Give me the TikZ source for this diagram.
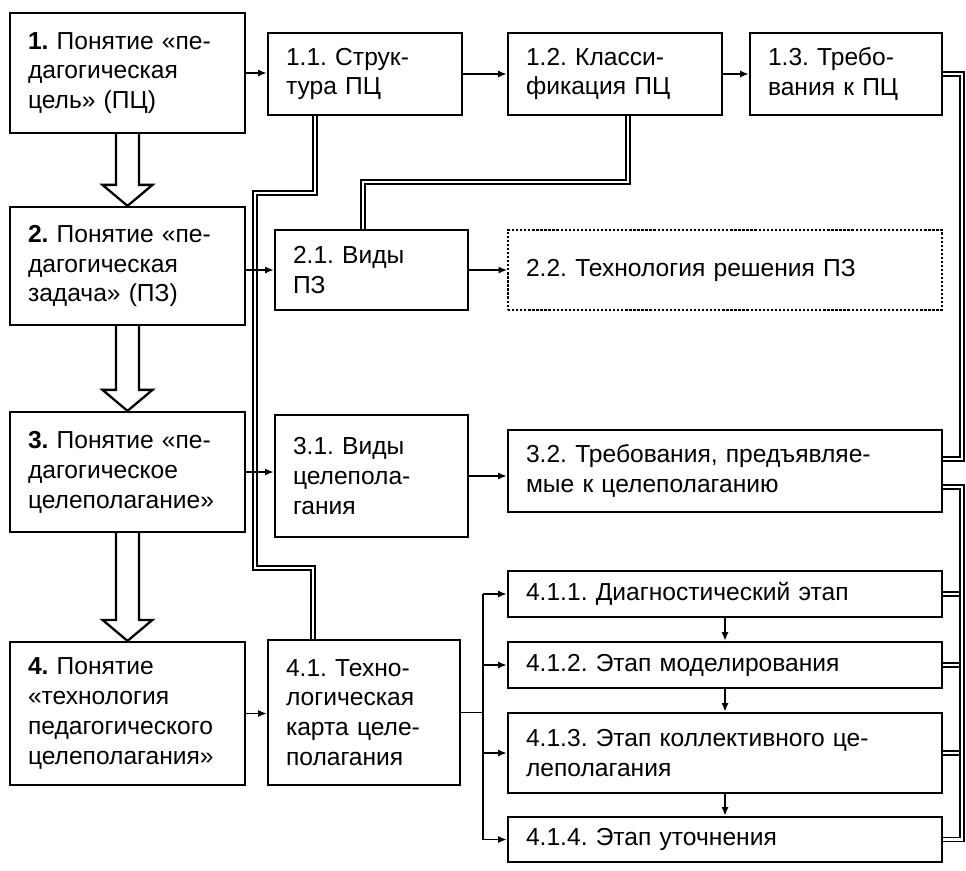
\documentclass[tikz,border=0pt]{standalone}
\usepackage{fontspec}
\setmainfont{Liberation Sans}
\usetikzlibrary{arrows.meta}
\frenchspacing

\begin{document}
\begin{tikzpicture}[x=0.02cm, y=-0.02cm,
		box/.style={draw, line width=1.3pt, align=left, inner xsep=0.36cm, inner ysep=0pt, font=\fontsize{14}{17}\selectfont},
		arr/.style={line width=1pt, -{Latex[length=5pt,width=4pt]}},
		dbl/.style={double, double distance=1.5pt, line width=0.9pt},
		hollow/.style={line width=1.3pt, line join=miter}]
	\useasboundingbox (0,0) rectangle (966,870);

	% main column
	\node[box, text width=3.98cm, minimum height=2.4cm] (p1) at (127.5,73) {\textbf{1.} Понятие «пе-\\дагогическая\\цель» (ПЦ)};
	\node[box, text width=3.98cm, minimum height=2.36cm] (p2) at (127.5,266) {\textbf{2.} Понятие «пе-\\дагогическая\\задача» (ПЗ)};
	\node[box, text width=3.98cm, minimum height=2.4cm] (p3) at (127.5,472) {\textbf{3.} Понятие «пе-\\дагогическое\\целеполагание»};
	\node[box, text width=3.98cm, minimum height=2.86cm] (p4) at (127.5,713.5) {\textbf{4.} Понятие\\«технология\\педагогического\\целеполагания»};

	% sub-items
	\node[box, text width=3.16cm, minimum height=1.64cm] (p11) at (365,74) {1.1. Струк-\\тура ПЦ};
	\node[box, text width=3.56cm, minimum height=1.64cm] (p12) at (615,74) {1.2. Класси-\\фикация ПЦ};
	\node[box, text width=3.12cm, minimum height=1.64cm] (p13) at (846,74) {1.3. Требо-\\вания к ПЦ};
	\node[box, text width=3.14cm, minimum height=1.6cm] (p21) at (371.5,270) {2.1. Виды\\ПЗ};
	\node[box, densely dotted, line width=0.8pt, text width=7.96cm, minimum height=1.6cm] (p22) at (725,270) {2.2. Технология решения ПЗ};
	\node[box, text width=3.14cm, minimum height=2.44cm] (p31) at (371.5,476) {3.1. Виды\\целепола-\\гания};
	\node[box, text width=7.96cm, minimum height=1.64cm] (p32) at (725,471) {3.2. Требования, предъявляе-\\мые к целеполаганию};
	\node[box, text width=3.12cm, minimum height=2.9cm] (p41) at (364,712.5) {4.1. Техно-\\логическая\\карта целе-\\полагания};
	\node[box, text width=7.96cm, minimum height=0.92cm] (p411) at (725,594) {4.1.1. Диагностический этап};
	\node[box, text width=7.96cm, minimum height=0.92cm] (p412) at (725,665) {4.1.2. Этап моделирования};
	\node[box, text width=7.96cm, minimum height=1.6cm] (p413) at (725,753) {4.1.3. Этап коллективного це-\\леполагания};
	\node[box, text width=7.96cm, minimum height=0.9cm] (p414) at (725,839.5) {4.1.4. Этап уточнения};

	\coordinate (a1) at (315,193);
	\coordinate (a2) at (255,568);
	\coordinate (a3) at (313,568);
	\coordinate (b1) at (628,182);
	\coordinate (b2) at (363,182);
	\coordinate (bus) at (962,0);
	\coordinate (fan) at (483,0);

	% double links
	\draw[dbl] (p11.south -| a1) -- (a1) -| (a2) -- (a3) -- (p41.north -| a3);
	\draw[dbl] (p12.south -| b1) -- (b1) -- (b2) -- (p21.north -| b2);
	\draw[dbl] (p13.east) -- (p13.east -| bus) -- ([yshift=0.24cm]p32.east -| bus) -- ([yshift=0.24cm]p32.east);
	\foreach \n in {p411,p412,p413}
		\draw[dbl] (\n.east) -- (\n.east -| bus);
	\draw[dbl] ([yshift=-0.32cm]p32.east) -- ([yshift=-0.32cm]p32.east -| bus) -- (p414.east -| bus) -- (p414.east);

	% hollow arrows
	\foreach \a/\b in {p1/p2,p2/p3,p3/p4}
		\draw[hollow] ([xshift=-0.23cm]\a.south) -- ([xshift=-0.23cm,yshift=0.42cm]\b.north) -- ([xshift=-0.5cm,yshift=0.42cm]\b.north) -- (\b.north) -- ([xshift=0.5cm,yshift=0.42cm]\b.north) -- ([xshift=0.23cm,yshift=0.42cm]\b.north) -- ([xshift=0.23cm]\a.south);

	% arrows
	\draw[arr] (p1.east) -- (p1.east -| p11.west);
	\draw[arr] (p11) -- (p12);
	\draw[arr] (p12) -- (p13);
	\draw[arr] (p21.west -| p2.east) -- (p21.west);
	\draw[arr] (p21) -- (p22);
	\draw[arr] (p3.east) -- (p3.east -| p31.west);
	\draw[arr] (p31.east) -- (p31.east -| p32.west);
	\draw[arr] (p4.east) -- (p4.east -| p41.west);

	\draw[line width=1pt] (p41.east) -- (p41.east -| fan);
	\draw[line width=1pt] (p411.west -| fan) -- (p414.west -| fan);
	\foreach \n in {p411,p412,p413,p414}
		\draw[arr] (\n.west -| fan) -- (\n.west);
	\foreach \a/\b in {p411/p412,p412/p413,p413/p414}
		\draw[arr] (\a) -- (\b);
\end{tikzpicture}
\end{document}
